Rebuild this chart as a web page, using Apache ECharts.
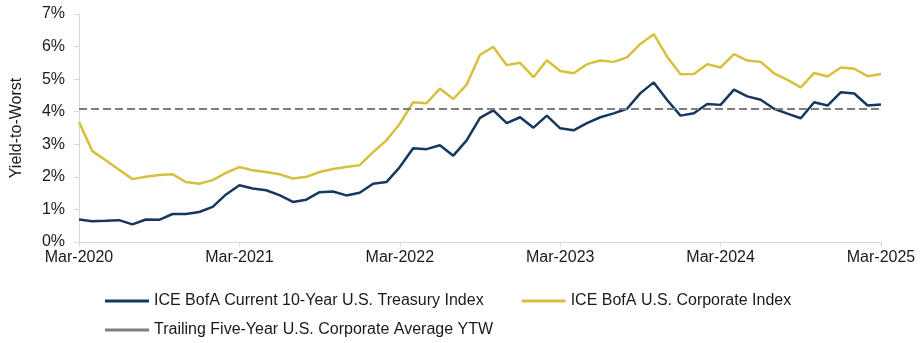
<!DOCTYPE html>
<html><head><meta charset="utf-8">
<script src="https://cdn.jsdelivr.net/npm/echarts@6/dist/echarts.min.js"></script>
<style>html,body{margin:0;padding:0;background:#fff}#c{width:920px;height:343px}</style>
</head><body><div id="c"></div>
<script>
const months = ['Mar-2020','Apr-2020','May-2020','Jun-2020','Jul-2020','Aug-2020','Sep-2020','Oct-2020','Nov-2020','Dec-2020','Jan-2021','Feb-2021',
'Mar-2021','Apr-2021','May-2021','Jun-2021','Jul-2021','Aug-2021','Sep-2021','Oct-2021','Nov-2021','Dec-2021','Jan-2022','Feb-2022',
'Mar-2022','Apr-2022','May-2022','Jun-2022','Jul-2022','Aug-2022','Sep-2022','Oct-2022','Nov-2022','Dec-2022','Jan-2023','Feb-2023',
'Mar-2023','Apr-2023','May-2023','Jun-2023','Jul-2023','Aug-2023','Sep-2023','Oct-2023','Nov-2023','Dec-2023','Jan-2024','Feb-2024',
'Mar-2024','Apr-2024','May-2024','Jun-2024','Jul-2024','Aug-2024','Sep-2024','Oct-2024','Nov-2024','Dec-2024','Jan-2025','Feb-2025',
'Mar-2025'];
const treasury = [0.69,0.64,0.65,0.67,0.54,0.69,0.68,0.86,0.86,0.92,1.08,1.46,
1.74,1.64,1.59,1.44,1.23,1.30,1.53,1.55,1.43,1.51,1.79,1.84,
2.30,2.88,2.85,2.97,2.65,3.12,3.81,4.04,3.65,3.83,3.51,3.88,
3.49,3.43,3.65,3.83,3.95,4.09,4.57,4.90,4.36,3.88,3.95,4.24,
4.21,4.68,4.47,4.37,4.09,3.94,3.80,4.29,4.19,4.60,4.56,4.19,
4.22];
const corporate = [3.68,2.79,2.51,2.22,1.93,2.00,2.06,2.08,1.84,1.79,1.90,2.12,
2.30,2.20,2.15,2.08,1.95,2.00,2.15,2.24,2.30,2.36,2.76,3.12,
3.63,4.29,4.26,4.71,4.39,4.83,5.75,5.99,5.43,5.50,5.06,5.58,
5.25,5.18,5.46,5.57,5.53,5.67,6.08,6.38,5.69,5.15,5.16,5.46,
5.36,5.77,5.57,5.53,5.18,4.98,4.75,5.19,5.08,5.36,5.32,5.09,
5.16];
const avgYTW = 4.08;
const names = ['ICE BofA Current 10-Year U.S. Treasury Index','ICE BofA U.S. Corporate Index','Trailing Five-Year U.S. Corporate Average YTW'];
const colors = ['#17375E','#D6C03C','#7F7F7F'];
const yTicks = [0,1,2,3,4,5,6,7];

const font = "'Liberation Sans', Arial, sans-serif";
const chart = echarts.init(document.getElementById('c'), null, {renderer:'canvas'});
const legendCommon = {
  left: 100, itemWidth: 44, itemHeight: 3, icon: 'rect', itemGap: 38,
  textStyle: {fontFamily: font, fontSize: 16, color: '#1a1a1a'}
};
chart.setOption({
  animation: false,
  textStyle: {fontFamily: font},
  grid: {left: 79, right: 39, top: 14, bottom: 101, containLabel: false},
  legend: [
    Object.assign({}, legendCommon, {top: 288, data: [names[0], names[1]]}),
    Object.assign({}, legendCommon, {top: 317, data: [names[2]]})
  ],
  xAxis: {
    type: 'category', data: months, boundaryGap: false,
    axisLine: {lineStyle: {color: '#d9d9d9', width: 1}},
    axisTick: {show: true, interval: 11, length: 5, lineStyle: {color: '#d9d9d9'}},
    axisLabel: {interval: 11, fontSize: 16, color: '#1a1a1a', margin: 8, fontFamily: font},
    splitLine: {show: false}
  },
  yAxis: {
    type: 'value', min: yTicks[0], max: yTicks[yTicks.length-1], interval: 1,
    name: 'Yield-to-Worst', nameLocation: 'middle', nameRotate: 90, nameGap: 54,
    nameTextStyle: {fontSize: 16, color: '#1a1a1a', fontFamily: font},
    axisLine: {show: true, lineStyle: {color: '#d9d9d9'}},
    axisTick: {show: true, length: 5, lineStyle: {color: '#d9d9d9'}},
    axisLabel: {formatter: '{value}%', fontSize: 16, color: '#1a1a1a', margin: 14, fontFamily: font},
    splitLine: {show: false}
  },
  series: [
    {name: names[0], type: 'line', data: treasury, symbol: 'none', color: colors[0],
     lineStyle: {width: 2.5, color: colors[0]}, z: 3},
    {name: names[1], type: 'line', data: corporate, symbol: 'none', color: colors[1],
     lineStyle: {width: 2.5, color: colors[1]}, z: 2},
    {name: names[2], type: 'line', data: [], symbol: 'none', color: colors[2],
     lineStyle: {width: 2.5, color: colors[2], type: 'solid'}, z: 1,
     markLine: {silent: true, symbol: 'none', animation: false,
       label: {show: false},
       lineStyle: {width: 2, color: colors[2], type: [8, 4]},
       data: [{yAxis: avgYTW}]}}
  ]
});
</script></body></html>
